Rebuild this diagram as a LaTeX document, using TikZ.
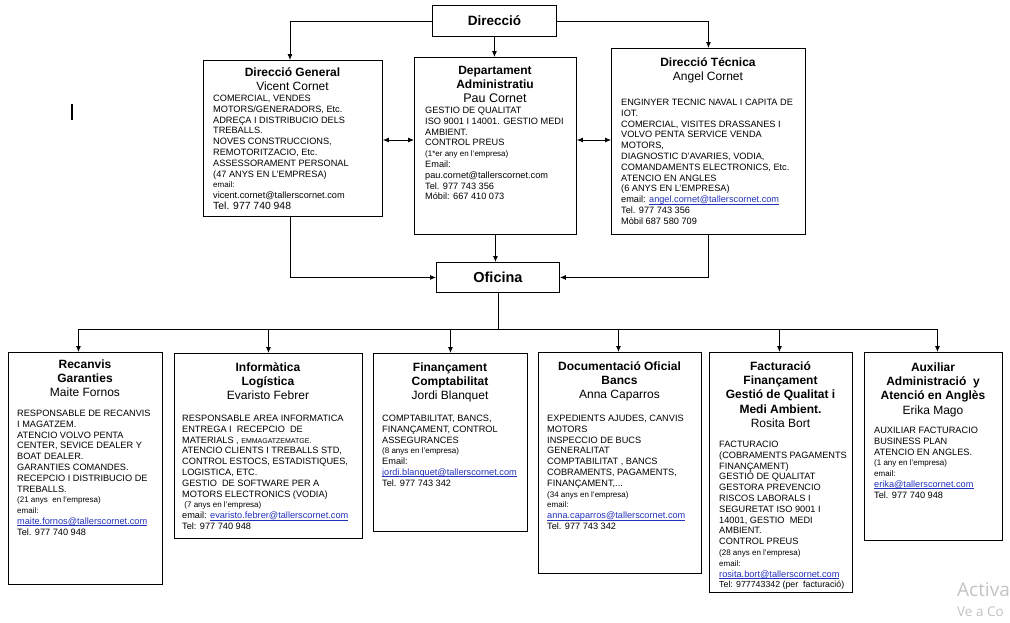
\documentclass[tikz,border=0pt]{standalone}
\usepackage{fontspec}
\setmainfont{Liberation Sans}
\newfontfamily\wmfont{Open Sans}
\usetikzlibrary{arrows.meta,calc}
\definecolor{linkblue}{RGB}{35,50,190}
\definecolor{wmgray}{RGB}{195,195,195}
\newcommand{\bodyfont}{\fontsize{9.2}{10.8}\selectfont}
\newcommand{\titlefont}{\fontsize{12}{14.2}\selectfont}
\newcommand{\smln}[1]{{\fontsize{8}{10.8}\selectfont #1}}
\newcommand{\lnk}[1]{{\color{linkblue}\setbox0\hbox{#1}\rlap{\rule[-1.3pt]{\wd0}{0.5pt}}\box0}}
\newcommand{\fs}{\rule{0pt}{8pt}}
\newcommand{\ts}{\rule{0pt}{10pt}}
\tikzset{
  box/.style={draw, line width=0.9pt, inner sep=0pt, anchor=north west},
  ttl/.style={anchor=north, inner sep=0pt, align=center, font=\titlefont},
  bdy/.style={anchor=north west, inner sep=0pt, align=left, font=\bodyfont},
  conn/.style={line width=0.8pt, -{Latex[length=6pt,width=5pt]}},
  dconn/.style={line width=0.8pt, {Latex[length=6pt,width=5pt]}-{Latex[length=6pt,width=5pt]}},
  plain/.style={line width=0.8pt},
}
\begin{document}
\begin{tikzpicture}[x=1pt,y=-1pt]
\useasboundingbox[fill=white] (0,0) rectangle (1010,622);

% top level
\node[box, minimum width=124pt, minimum height=31pt] (Dir) at (432,5) {};
\node[font=\bfseries\fontsize{13.5}{14}\selectfont, inner sep=0pt] (Dirt) at (Dir.center) {Direcció};

\node[box, minimum width=179pt, minimum height=156pt] (DG) at (203,60) {};
\node[ttl] (DGt) at (292.5,66.3) {\ts\textbf{Direcció General}\\Vicent Cornet};
\node[bdy] (DGb) at (213,93.3) {\fs COMERCIAL, VENDES\\
MOTORS/GENERADORS, Etc.\\
ADREÇA I DISTRIBUCIO DELS\\
TREBALLS.\\
NOVES CONSTRUCCIONS,\\
REMOTORITZACIO, Etc.\\
ASSESSORAMENT PERSONAL\\
(47 ANYS EN L'EMPRESA)\\
\smln{email:}\\
vicent.cornet@tallerscornet.com\\
{\fontsize{10.4}{10.8}\selectfont Tel. 977 740 948}};

\node[box, minimum width=162pt, minimum height=177pt] (DA) at (414,57) {};
\node[ttl] (DAt) at (495,64.3) {\ts\textbf{Departament}\\\textbf{Administratiu}\\{\fontsize{12.5}{14.2}\selectfont Pau Cornet}};
\node[bdy] (DAb) at (425,105.3) {\fs GESTIO DE QUALITAT\\
ISO 9001 I 14001. GESTIO MEDI\\
AMBIENT.\\
CONTROL PREUS\\
\smln{(1*er any en l'empresa)}\\
Email:\\
pau.cornet@tallerscornet.com\\
Tel. 977 743 356\\
Móbil: 667 410 073};

\node[box, minimum width=194pt, minimum height=186pt] (DT) at (611,48) {};
\node[ttl] (DTt) at (708,56.3) {\ts\textbf{Direcció Técnica}\\Angel Cornet};
\node[bdy] (DTb) at (621,97.3) {\fs ENGINYER TECNIC NAVAL I CAPITA DE\\
IOT.\\
COMERCIAL, VISITES DRASSANES I\\
VOLVO PENTA SERVICE VENDA\\
MOTORS,\\
DIAGNOSTIC D'AVARIES, VODIA,\\
COMANDAMENTS ELECTRONICS, Etc.\\
ATENCIO EN ANGLES\\
(6 ANYS EN L'EMPRESA)\\
email: \lnk{angel.cornet@tallerscornet.com}\\
Tel. 977 743 356\\
Mòbil 687 580 709};

\node[box, minimum width=123pt, minimum height=30pt] (Of) at (436,262) {};
\node[font=\bfseries\fontsize{14.5}{15}\selectfont, inner sep=0pt] (Oft) at (Of.center) {Oficina};

% bottom level
\node[box, minimum width=154pt, minimum height=232pt] (Rec) at (8,352) {};
\node[ttl] (Rect) at (85,358.3) {\ts\textbf{Recanvis}\\\textbf{Garanties}\\Maite Fornos};
\node[bdy] (Recb) at (17,408.3) {\fs RESPONSABLE DE RECANVIS\\
I MAGATZEM.\\
ATENCIO VOLVO PENTA\\
CENTER, SEVICE DEALER Y\\
BOAT DEALER.\\
GARANTIES COMANDES.\\
RECEPCIO I DISTRIBUCIO DE\\
TREBALLS.\\
\smln{(21 anys\ \ en l'empresa)}\\
\smln{email:}\\
\lnk{maite.fornos@tallerscornet.com}\\
Tel. 977 740 948};

\node[box, minimum width=188pt, minimum height=185pt] (Inf) at (174,353) {};
\node[ttl] (Inft) at (268,361.3) {\ts\textbf{Informàtica}\\\textbf{Logística}\\Evaristo Febrer};
\node[bdy] (Infb) at (182,413.3) {\fs RESPONSABLE AREA INFORMATICA\\
ENTREGA I\ \ RECEPCIO\ \ DE\\
MATERIALS , {\fontsize{7}{10.8}\selectfont EMMAGATZEMATGE.}\\
ATENCIO CLIENTS I TREBALLS STD,\\
CONTROL ESTOCS, ESTADISTIQUES,\\
LOGISTICA, ETC.\\
GESTIO\ \ DE SOFTWARE PER A\\
MOTORS ELECTRONICS (VODIA)\\
\smln{\ (7 anys en l'empresa)}\\
email: \lnk{evaristo.febrer@tallerscornet.com}\\
Tel: 977 740 948};

\node[box, minimum width=154pt, minimum height=178pt] (Fin) at (373,353) {};
\node[ttl] (Fint) at (450,361.3) {\ts\textbf{Finançament}\\\textbf{Comptabilitat}\\Jordi Blanquet};
\node[bdy] (Finb) at (382,413.3) {\fs COMPTABILITAT, BANCS,\\
FINANÇAMENT, CONTROL\\
ASSEGURANCES\\
\smln{(8 anys en l'empresa)}\\
Email:\\
\lnk{jordi.blanquet@tallerscornet.com}\\
Tel. 977 743 342};

\node[box, minimum width=163pt, minimum height=221pt] (Doc) at (538,352) {};
\node[ttl] (Doct) at (619.5,360.3) {\ts\textbf{Documentació Oficial}\\\textbf{Bancs}\\Anna Caparros};
\node[bdy] (Docb) at (547,413.3) {\fs EXPEDIENTS AJUDES, CANVIS\\
MOTORS\\
INSPECCIO DE BUCS\\
GENERALITAT\\
COMPTABILITAT , BANCS\\
COBRAMENTS, PAGAMENTS,\\
FINANÇAMENT,...\\
\smln{(34 anys en l'empresa)}\\
\smln{email:}\\
\lnk{anna.caparros@tallerscornet.com}\\
Tel. 977 743 342};

\node[box, minimum width=143pt, minimum height=240pt] (Fac) at (709,352) {};
\node[ttl] (Fact) at (780.5,360.3) {\ts\textbf{Facturació}\\\textbf{Finançament}\\\textbf{Gestió de Qualitat i}\\\textbf{Medi Ambient.}\\Rosita Bort};
\node[bdy] (Facb) at (719,439.3) {\fs FACTURACIO\\
(COBRAMENTS PAGAMENTS\\
FINANÇAMENT)\\
GESTIÓ DE QUALITAT\\
GESTORA PREVENCIO\\
RISCOS LABORALS I\\
SEGURETAT ISO 9001 I\\
14001, GESTIO\ \ MEDI\\
AMBIENT.\\
CONTROL PREUS\\
\smln{(28 anys en l'empresa)}\\
\smln{email:}\\
\lnk{rosita.bort@tallerscornet.com}\\
{\fontsize{8.8}{10.8}\selectfont Tel: 977743342 (per\ \ facturació)}};

\node[box, minimum width=138pt, minimum height=188pt] (Aux) at (864,352) {};
\node[ttl] (Auxt) at (933,361.3) {\ts\textbf{Auxiliar}\\\textbf{Administració\ \ y}\\\textbf{Atenció en Anglès}\\Erika Mago};
\node[bdy] (Auxb) at (874,425.3) {\fs AUXILIAR FACTURACIO\\
BUSINESS PLAN\\
ATENCIO EN ANGLES.\\
\smln{(1 any en l'empresa)}\\
\smln{email:}\\
\lnk{erika@tallerscornet.com}\\
Tel. 977 740 948};

% connectors top
\coordinate (yA) at (0,140);
\coordinate (bus) at (0,329);
\draw[conn] (Dir.west) -| ([xshift=-3pt]DG.north);
\draw[conn] (Dir.east) -| (DT.north);
\draw[conn] (Dir.south) -- (Dir.south |- DA.north);
\draw[dconn] (DG.east |- yA) -- (DA.west |- yA);
\draw[dconn] (DA.east |- yA) -- (DT.west |- yA);
\draw[conn] ([xshift=-3pt]DG.south) |- (Of.west);
\draw[conn] (DA.south) -- (DA.south |- Of.north);
\draw[conn] (DT.south) |- (Of.east);

% connectors bottom
\draw[plain] (Of.south) -- (Of.south |- bus);
\draw[plain] ([xshift=-7pt]Rec.north |- bus) -- ([xshift=4pt]Aux.north |- bus);
\draw[conn] ([xshift=-7pt]Rec.north |- bus) -- ([xshift=-7pt]Rec.north);
\draw[conn] (Inf.north |- bus) -- (Inf.north);
\draw[conn] (Fin.north |- bus) -- (Fin.north);
\draw[conn] ([xshift=-1.5pt]Doc.north |- bus) -- ([xshift=-1.5pt]Doc.north);
\draw[conn] ([xshift=-1.5pt]Fac.north |- bus) -- ([xshift=-1.5pt]Fac.north);
\draw[conn] ([xshift=4pt]Aux.north |- bus) -- ([xshift=4pt]Aux.north);

% text cursor and watermark
\draw[line width=1.2pt] (72,104) -- (72,120);
\node[anchor=base west, inner sep=0pt, text=wmgray, font=\wmfont\fontsize{19}{19}\selectfont] (wm1) at (957,596) {Activa};
\node[anchor=base west, inner sep=0pt, text=wmgray, font=\wmfont\fontsize{13.5}{13.5}\selectfont] (wm2) at (957,616) {Ve a Co};
\end{tikzpicture}
\end{document}
